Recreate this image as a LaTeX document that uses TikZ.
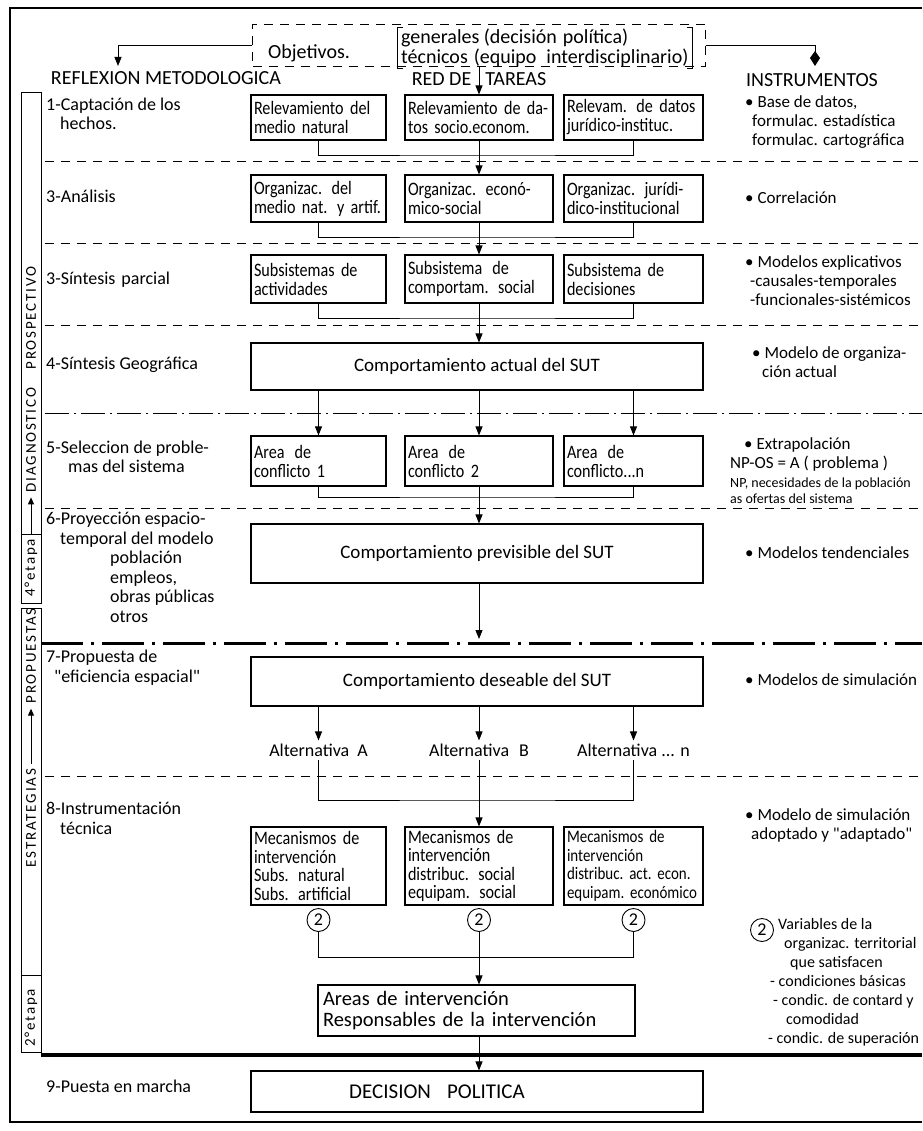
\documentclass[tikz,border=0pt]{standalone}
\usepackage{fontspec}
\setmainfont[FakeStretch=0.85]{Carlito}
\newfontfamily\weit{Carlito}
\newfontfamily\sperrfont[LetterSpace=12]{Carlito}
\usetikzlibrary{arrows.meta,positioning}
\hyphenpenalty=10000
\exhyphenpenalty=10000

\newcommand\grund{\fontsize{19}{19}\selectfont}
\newcommand\vier{\fontsize{19}{18.5}\selectfont}
\newcommand\eng{\fontsize{17.6}{18.5}\selectfont}
\newcommand\marke{\weit\fontsize{18}{19.5}\selectfont}
\newcommand\instfont{\weit\fontsize{17}{19}\selectfont}
\newcommand\gross{\weit\fontsize{19}{21}\selectfont}
\newcommand\titel{\weit\fontsize{20}{20}\selectfont}
\newcommand\legfont{\weit\fontsize{16}{19}\selectfont}
\newcommand\klein{\weit\fontsize{14}{16}\selectfont}
\newcommand\sperr{\sperrfont\fontsize{15}{16}\selectfont}

\tikzset{
  kasten/.style={draw, line width=1.1pt, align=left, inner xsep=3pt, inner ysep=2pt, font=\grund},
  spA/.style={kasten, text width=129pt},
  spB/.style={kasten, text width=142pt},
  spC/.style={kasten, text width=133pt},
  breit/.style={kasten, align=center, minimum width=452pt, font=\gross},
  links/.style={anchor=west, align=left, inner sep=0pt, font=\marke},
  linksoben/.style={anchor=north west, align=left, inner sep=0pt, font=\marke},
  instr/.style={anchor=north west, align=left, inner sep=0pt, font=\instfont},
  kopf/.style={font=\titel, inner sep=0pt},
  linie/.style={line width=0.9pt},
  pfeil/.style={line width=0.9pt, -{Triangle[length=9pt,width=7pt]}},
  pfeilraute/.style={line width=0.9pt, -{Kite[length=15pt,width=10pt,inset=7pt]}},
  pfeilklein/.style={line width=0.9pt, -{Triangle[length=7pt,width=6pt]}, shorten <=4pt, shorten >=4pt},
  trenn/.style={line width=0.8pt, dash pattern=on 9pt off 7pt},
  strichpunkt/.style={line width=1pt, dash pattern=on 24pt off 5pt on 2pt off 5pt},
  dickstrichpunkt/.style={line width=3pt, dash pattern=on 42pt off 8pt on 3pt off 8pt},
  kreis/.style={draw, circle, line width=0.9pt, minimum size=23pt, inner sep=0pt, font=\marke},
  streifen/.style={rotate=90, font=\sperr, inner sep=1pt}
}

\begin{document}
\begin{tikzpicture}[x=1pt,y=-1pt,font=\grund]
\useasboundingbox (0,0) rectangle (922,1131);

% Spalten
\def\xA{318.5}
\def\xB{479}
\def\xC{633.5}

% Rahmen
\draw[line width=1.4pt] (922,8) -- (10,8) -- (10,1122) -- (922,1122);

% Objetivos
\node[draw, dash pattern=on 9pt off 7pt, line width=0.9pt, minimum width=453pt, minimum height=42pt] (objbox) at (\xB,45) {};
\node[anchor=west, inner sep=0pt, font=\titel] (objtxt) at (268,53) {Objetivos.};
\node[anchor=west, align=left, inner sep=1pt, font=\titel] (gen) at (400,48) {generales (decisión\hspace{6pt}política)\\técnicos\hspace{6pt}(equipo\hspace{10pt}interdisciplinario)};
\draw[linie] ([xshift=3pt]gen.north west) -- ([xshift=-3pt]gen.north west) -- ([xshift=-3pt]gen.south west) -- ([xshift=3pt]gen.south west);
\draw[linie] ([xshift=-3pt]gen.north east) -- ([xshift=3pt]gen.north east) -- ([xshift=3pt]gen.south east) -- ([xshift=-3pt]gen.south east);

% Kopfzeile
\node[kopf] (reflex) at (166,78) {REFLEXION METODOLOGICA};
\node[kopf] (red) at (\xB,79) {RED DE\hspace{14pt}TAREAS};
\node[kopf] (instrum) at (812,80) {INSTRUMENTOS};
\coordinate (pL) at (118,66);
\coordinate (pR) at (815,66);
\draw[pfeil] (objbox.west) -| (pL);
\draw[pfeilraute] (objbox.east) -| (pR);

% Streifen links
\draw[linie] (21,92) rectangle (41,603);
\draw[linie] (21,534) -- (41,534);
\draw[linie] (21,608) rectangle (41,1052);
\draw[linie] (21,975) -- (41,975);
\node[streifen] (prosp) at (31,318) {PROSPECTIVO};
\node[streifen] (diag) at (31,440) {DIAGNOSTICO};
\node[streifen] (etapa4) at (31,568) {4°etapa};
\draw[pfeilklein] (etapa4.east) -- (diag.west);
\node[streifen] (prop) at (31,656) {PROPUESTAS};
\node[streifen] (estr) at (31,818) {ESTRATEGIAS};
\draw[pfeilklein] (estr.east) -- (prop.west);
\node[streifen] (etapa2) at (31,1018) {2°etapa};

% Zeile 1
\node[links] (l1) at (46,114) {1-Captación de los\\\hspace*{14pt}hechos.};
\node[spA, minimum height=45pt] (r1a) at (\xA,117.5) {Relevamiento del\\medio natural};
\node[spB, minimum height=45pt] (r1b) at (\xB,117.5) {Relevamiento de da-\\tos socio.econom.};
\node[spC, minimum height=45pt] (r1c) at (\xC,117.5) {Relevam. de datos\\jurídico-instituc.};
\node[instr] (i1) at (745,95) {• Base de datos,\\\hspace*{7pt}formulac. estadística\\\hspace*{7pt}formulac. cartográfica};
\draw[pfeil] (objbox.south) -- (r1b.north);
\coordinate (j1) at (\xB,155);
\draw[linie] (r1a.south) |- (j1) -| (r1c.south);
\draw[trenn] (45,161) -- (922,161);

% Zeile 2
\node[links] (l2) at (46,196) {3-Análisis};
\node[spA, minimum height=47pt] (r2a) at (\xA,198.5) {Organizac. del\\medio nat. y artif.};
\node[spB, minimum height=47pt] (r2b) at (\xB,198.5) {Organizac. econó-\\mico-social};
\node[spC, minimum height=47pt] (r2c) at (\xC,198.5) {Organizac. jurídi-\\dico-institucional};
\node[links, font=\instfont] (i2) at (745,198) {• Correlación};
\draw[pfeil] (r1b.south) -- (r2b.north);
\coordinate (j2) at (\xB,237);
\draw[linie] (r2a.south) |- (j2) -| (r2c.south);
\draw[trenn] (45,243) -- (922,243);

% Zeile 3
\node[links] (l3) at (46,280) {3-Síntesis\hspace{6pt}parcial};
\node[spA, minimum height=48pt] (r3a) at (\xA,279) {Subsistemas de\\actividades};
\node[spB, minimum height=48pt] (r3b) at (\xB,279) {Subsistema\hspace{10pt}de\\comportam. social};
\node[spC, minimum height=48pt] (r3c) at (\xC,279) {Subsistema de\\decisiones};
\node[instr] (i3) at (745,255) {• Modelos explicativos\\\hspace*{5pt}-causales-temporales\\\hspace*{5pt}-funcionales-sistémicos};
\draw[pfeil] (r2b.south) -- (r3b.north);
\coordinate (j3) at (\xB,318);
\draw[linie] (r3a.south) |- (j3) -| (r3c.south);
\draw[trenn] (45,325) -- (922,325);

% Zeile 4
\node[links] (l4) at (46,365) {4-Síntesis Geográfica};
\node[breit, minimum height=47pt] (r4) at (477,366.5) {Comportamiento actual del SUT};
\node[instr] (i4) at (752,346) {• Modelo de organiza-\\\hspace*{10pt}ción actual};
\draw[pfeil] (r3b.south) -- (r3b.south |- r4.north);
\draw[strichpunkt] (45,413) -- (922,413);

% Zeile 5
\node[links] (l5) at (46,457) {5-Seleccion de proble-\\\hspace*{22pt}mas del sistema};
\node[spA, minimum height=50pt] (r5a) at (\xA,461) {Area\hspace{10pt}de\\conflicto 1};
\node[spB, minimum height=50pt] (r5b) at (\xB,461) {Area\hspace{10pt}de\\conflicto 2};
\node[spC, minimum height=50pt] (r5c) at (\xC,461) {Area\hspace{10pt}de\\conflicto...n};
\node[instr] (i5) at (730,437) {\hspace*{14pt}• Extrapolación\\NP-OS = A ( problema )};
\node[instr, font=\klein] (i5b) at (730,478) {NP, necesidades de la población\\as ofertas del sistema};
\draw[pfeil] (r4.south -| r5a.north) -- (r5a.north);
\draw[pfeil] (r4.south -| r5b.north) -- (r5b.north);
\draw[pfeil] (r4.south -| r5c.north) -- (r5c.north);
\coordinate (j5) at (\xB,497);
\draw[linie] (r5a.south) |- (j5) -| (r5c.south);
\draw[trenn] (45,508) -- (922,508);

% Zeile 6
\node[linksoben] (l6) at (46,512) {6-Proyección espacio-\\\hspace*{14pt}temporal del modelo\\\hspace*{64pt}población\\\hspace*{64pt}empleos,\\\hspace*{64pt}obras públicas\\\hspace*{64pt}otros};
\node[breit, minimum height=59pt] (r6) at (477,553.5) {Comportamiento previsible del SUT};
\node[links, font=\instfont] (i6) at (745,553) {• Modelos tendenciales};
\draw[pfeil] (r5b.south) -- (r5b.south |- r6.north);
\coordinate (e6) at (\xB,639);
\draw[pfeil] (r6.south -| e6) -- (e6);
\draw[dickstrichpunkt] (41,643) -- (922,643);

% Zeile 7
\node[linksoben] (l7) at (46,650) {7-Propuesta de\\\hspace*{8pt}"eficiencia espacial"};
\node[breit, minimum height=49pt] (r7) at (477,681.5) {Comportamiento deseable del SUT};
\node[links, font=\instfont] (i7) at (745,680) {• Modelos de simulación};
\node[font=\marke, inner sep=3pt] (altA) at (\xA,750) {Alternativa\hspace{8pt}A};
\node[font=\marke, inner sep=3pt] (altB) at (\xB,750) {Alternativa\hspace{10pt}B};
\node[font=\marke, inner sep=3pt] (altC) at (\xC,750) {Alternativa ... n};
\draw[pfeil] (r7.south -| altA.north) -- (altA.north);
\draw[pfeil] (r7.south -| altB.north) -- (altB.north);
\draw[pfeil] (r7.south -| altC.north) -- (altC.north);
\draw[trenn] (45,776) -- (922,776);
\coordinate (j7) at (\xB,800);
\draw[linie] (altA.south) |- (j7) -| (altC.south);

% Zeile 8
\node[linksoben] (l8) at (46,802) {8-Instrumentación\\\hspace*{14pt}técnica};
\node[spA, minimum height=78pt, font=\vier] (r8a) at (\xA,866) {Mecanismos de\\intervención\\Subs. natural\\Subs. artificial};
\node[spB, minimum height=78pt, font=\vier] (r8b) at (\xB,866) {Mecanismos de\\intervención\\distribuc. social\\equipam. social};
\node[spC, minimum height=78pt, font=\eng] (r8c) at (\xC,866) {Mecanismos~de\\intervención\\distribuc.~act.~econ.\\equipam.~económico};
\node[instr] (i8) at (745,808) {• Modelo de simulación\\\hspace*{6pt}adoptado y "adaptado"};
\draw[pfeil] (altB.south) -- (r8b.north);
\node[kreis] (k1) at (\xA,920) {2};
\node[kreis] (k2) at (\xB,920) {2};
\node[kreis] (k3) at (\xC,920) {2};
\coordinate (j8) at (\xB,957);
\draw[linie] (k1.south) |- (j8) -| (k3.south);

% Legende
\node[kreis] (k4) at (762,930) {2};
\node[anchor=north west, align=left, inner sep=0pt, font=\legfont] (leg) at (778,918) {Variables de la\\\hspace*{6pt}organizac. territorial\\\hspace*{12pt}que satisfacen\\\hspace*{-8pt}- condiciones básicas\\\hspace*{-5pt}- condic. de contard y\\\hspace*{8pt}comodidad\\\hspace*{-10pt}- condic. de superación};

% Areas de intervencion
\node[kasten, font=\weit\fontsize{20.5}{21}\selectfont, inner xsep=5pt, text width=307pt, minimum height=51pt] (r8d) at (476.5,1010.5) {Areas de intervención\\Responsables de la intervención};
\draw[pfeil] (k2.south) -- (k2.south |- r8d.north);
\draw[line width=3.5pt] (41,1055) -- (922,1055);

% Zeile 9
\node[links] (l9) at (46,1086) {9-Puesta en marcha};
\node[breit, minimum height=41pt, font=\weit\fontsize{21}{22}\selectfont] (r9) at (477,1091.5) {DECISION\hspace{16pt}POLITICA\hspace*{80pt}};
\draw[pfeil] (r8d.south -| k2) -- (k2 |- r9.north);

\end{tikzpicture}
\end{document}
